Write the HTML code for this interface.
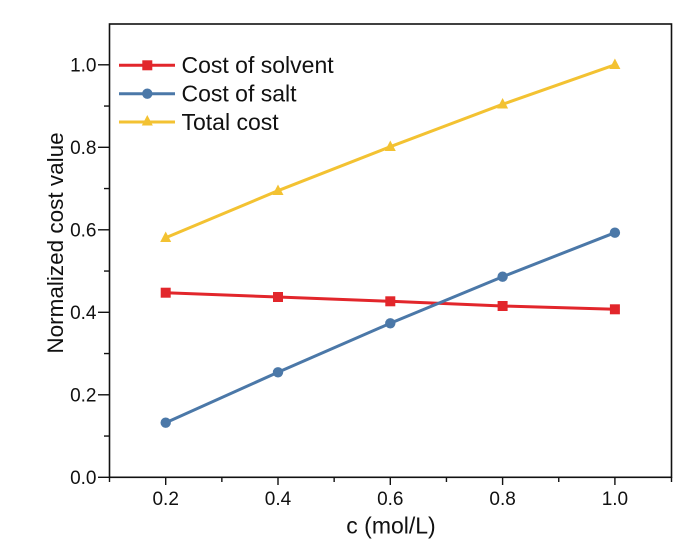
<!DOCTYPE html>
<html>
<head>
<meta charset="utf-8">
<style>
  html, body { margin: 0; padding: 0; background: #ffffff; }
  svg { display: block; }
  text { font-family: "Liberation Sans", Arial, sans-serif; fill: #111; }
</style>
</head>
<body>
<svg width="698" height="546" viewBox="0 0 698 546" xmlns="http://www.w3.org/2000/svg">
  <rect x="0" y="0" width="698" height="546" fill="#ffffff"/>

  <!-- frame -->
  <rect x="109.5" y="24" width="562" height="453.3" fill="none" stroke="#111" stroke-width="1.6"/>

  <!-- y ticks -->
  <g stroke="#111" stroke-width="1.4">
    <line x1="98" y1="477.3" x2="109.5" y2="477.3"/>
    <line x1="98" y1="394.8" x2="109.5" y2="394.8"/>
    <line x1="98" y1="312.3" x2="109.5" y2="312.3"/>
    <line x1="98" y1="229.8" x2="109.5" y2="229.8"/>
    <line x1="98" y1="147.3" x2="109.5" y2="147.3"/>
    <line x1="98" y1="64.8" x2="109.5" y2="64.8"/>
    <line x1="104" y1="436.05" x2="109.5" y2="436.05"/>
    <line x1="104" y1="353.55" x2="109.5" y2="353.55"/>
    <line x1="104" y1="271.05" x2="109.5" y2="271.05"/>
    <line x1="104" y1="188.55" x2="109.5" y2="188.55"/>
    <line x1="104" y1="106.05" x2="109.5" y2="106.05"/>
  </g>
  <!-- x ticks -->
  <g stroke="#111" stroke-width="1.4">
    <line x1="165.7" y1="477.3" x2="165.7" y2="485"/>
    <line x1="278" y1="477.3" x2="278" y2="485"/>
    <line x1="390.3" y1="477.3" x2="390.3" y2="485"/>
    <line x1="502.6" y1="477.3" x2="502.6" y2="485"/>
    <line x1="614.9" y1="477.3" x2="614.9" y2="485"/>
    <line x1="109.5" y1="477.3" x2="109.5" y2="482"/>
    <line x1="221.85" y1="477.3" x2="221.85" y2="482"/>
    <line x1="334.15" y1="477.3" x2="334.15" y2="482"/>
    <line x1="446.45" y1="477.3" x2="446.45" y2="482"/>
    <line x1="558.75" y1="477.3" x2="558.75" y2="482"/>
    <line x1="671.5" y1="477.3" x2="671.5" y2="482"/>
  </g>

  <!-- y tick labels -->
  <g font-size="19" text-anchor="end">
    <text x="96.5" y="484">0.0</text>
    <text x="96.5" y="401.5">0.2</text>
    <text x="96.5" y="319">0.4</text>
    <text x="96.5" y="236.5">0.6</text>
    <text x="96.5" y="154">0.8</text>
    <text x="96.5" y="71.5">1.0</text>
  </g>
  <!-- x tick labels -->
  <g font-size="19" text-anchor="middle">
    <text x="165.7" y="505">0.2</text>
    <text x="278" y="505">0.4</text>
    <text x="390.3" y="505">0.6</text>
    <text x="502.6" y="505">0.8</text>
    <text x="614.9" y="505">1.0</text>
  </g>

  <!-- axis titles -->
  <text x="391" y="533.5" font-size="23" text-anchor="middle">c (mol/L)</text>
  <text transform="translate(63,243) rotate(-90)" x="0" y="0" font-size="22.5" text-anchor="middle">Normalized cost value</text>

  <!-- series: total cost (yellow) -->
  <polyline points="165.7,237.7 278,190.7 390.3,146.7 502.6,104.3 614.9,64.8" fill="none" stroke="#f3c232" stroke-width="3"/>
  <g fill="#f3c232">
    <polygon points="165.7,231.5 171.2,242 160.2,242"/>
    <polygon points="278,184.5 283.5,195 272.5,195"/>
    <polygon points="390.3,140.5 395.8,151 384.8,151"/>
    <polygon points="502.6,98 508.1,108.5 497.1,108.5"/>
    <polygon points="614.9,58.5 620.4,69 609.4,69"/>
  </g>

  <!-- series: cost of solvent (red) -->
  <polyline points="165.7,292.7 278,297 390.3,301.3 502.6,306 614.9,309.3" fill="none" stroke="#e2262b" stroke-width="3"/>
  <g fill="#e2262b">
    <rect x="160.7" y="287.7" width="10" height="10"/>
    <rect x="273" y="292" width="10" height="10"/>
    <rect x="385.3" y="296.3" width="10" height="10"/>
    <rect x="497.6" y="301" width="10" height="10"/>
    <rect x="609.9" y="304.3" width="10" height="10"/>
  </g>

  <!-- series: cost of salt (blue) -->
  <polyline points="165.7,422.7 278,372.3 390.3,323.3 502.6,276.7 614.9,232.7" fill="none" stroke="#4b78a8" stroke-width="3"/>
  <g fill="#4b78a8">
    <circle cx="165.7" cy="422.7" r="5.2"/>
    <circle cx="278" cy="372.3" r="5.2"/>
    <circle cx="390.3" cy="323.3" r="5.2"/>
    <circle cx="502.6" cy="276.7" r="5.2"/>
    <circle cx="614.9" cy="232.7" r="5.2"/>
  </g>

  <!-- legend -->
  <line x1="119" y1="65.3" x2="175" y2="65.3" stroke="#e2262b" stroke-width="3"/>
  <rect x="142.3" y="60.3" width="10" height="10" fill="#e2262b"/>
  <text x="181.5" y="73" font-size="23">Cost of solvent</text>

  <line x1="119" y1="93.7" x2="175" y2="93.7" stroke="#4b78a8" stroke-width="3"/>
  <circle cx="147.3" cy="93.7" r="5.2" fill="#4b78a8"/>
  <text x="181.5" y="101.5" font-size="23">Cost of salt</text>

  <line x1="119" y1="122" x2="175" y2="122" stroke="#f3c232" stroke-width="3"/>
  <polygon points="147.3,115 152.8,125.5 141.8,125.5" fill="#f3c232"/>
  <text x="181.5" y="130" font-size="23">Total cost</text>
</svg>
</body>
</html>
